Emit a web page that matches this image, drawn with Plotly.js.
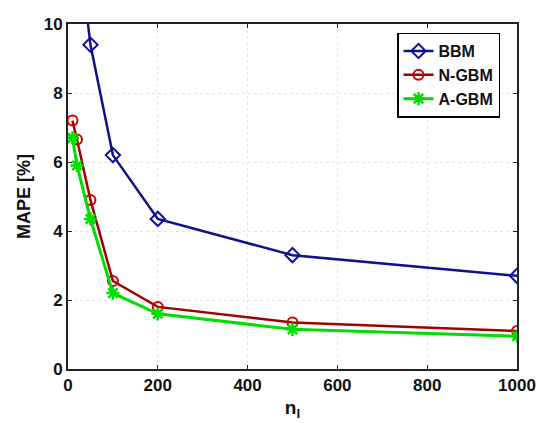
<!DOCTYPE html>
<html><head><meta charset="utf-8">
<script src="https://cdn.plot.ly/plotly-3.0.1.min.js"></script>
<style>body{margin:0;background:#fff}#c{width:538px;height:423px}</style>
</head><body><div id="c"></div>
<script>
const xVals = [10, 20, 50, 100, 200, 500, 1000];
const bbm = [14.5, 12.7, 9.4, 6.2, 4.35, 3.3, 2.7];
const ngbm = [7.2, 6.65, 4.9, 2.55, 1.8, 1.35, 1.1];
const agbm = [6.7, 5.9, 4.35, 2.2, 1.6, 1.15, 0.95];
const names = ["BBM", "N-GBM", "A-GBM"];

const traces = [
  {x: xVals, y: bbm, name: names[0], mode: "lines+markers",
   line: {color: "#10108a", width: 2.5},
   marker: {symbol: "diamond-open", size: 11, color: "#1010a0", line: {width: 2}}},
  {x: xVals, y: ngbm, name: names[1], mode: "lines+markers",
   line: {color: "#a00000", width: 2.5},
   marker: {symbol: "circle-open", size: 10, color: "#d00000", line: {width: 2}}},
  {x: xVals, y: agbm, name: names[2], mode: "lines+markers",
   line: {color: "#00dd00", width: 3},
   marker: {symbol: "asterisk-open", size: 11, color: "#00dd00", line: {width: 2.5, color: "#00dd00"}}}
];

const fam = "Liberation Sans, Arial, sans-serif";
const axFont = {family: fam, size: 17, color: "#111", weight: "bold"};
const layout = {
  width: 538, height: 423,
  margin: {l: 68, r: 21, t: 24, b: 54},
  paper_bgcolor: "#fff", plot_bgcolor: "#fff",
  showlegend: true,
  legend: {x: 397, y: 0.975, xref: "paper", xanchor: "left", yanchor: "top",
           bordercolor: "#000", borderwidth: 1.5, bgcolor: "#fff",
           font: {family: fam, size: 16, color: "#111", weight: "bold"},
           tracegroupgap: 0, itemwidth: 30},
  xaxis: {range: [0, 1000], tickvals: [0, 200, 400, 600, 800, 1000],
          showgrid: true, gridcolor: "#e4e4e4", griddash: "dot",
          showline: true, linecolor: "#222", linewidth: 2, mirror: "ticks",
          ticks: "inside", ticklen: 4, tickcolor: "#222", zeroline: false,
          tickfont: axFont,
          title: {text: "n<sub>l</sub>", font: {family: fam, size: 19, color: "#111", weight: "bold"}, standoff: 6}},
  yaxis: {range: [0, 10], tickvals: [0, 2, 4, 6, 8, 10],
          showgrid: true, gridcolor: "#e4e4e4", griddash: "dot",
          showline: true, linecolor: "#222", linewidth: 2, mirror: "ticks",
          ticks: "inside", ticklen: 4, tickcolor: "#222", zeroline: false,
          tickfont: axFont,
          title: {text: "MAPE [%]", font: {family: fam, size: 18, color: "#111", weight: "bold"}, standoff: 8}}
};
layout.legend.x = (397 - 68) / (538 - 68 - 21);
Plotly.newPlot("c", traces, layout, {displayModeBar: false, staticPlot: true});
</script></body></html>
